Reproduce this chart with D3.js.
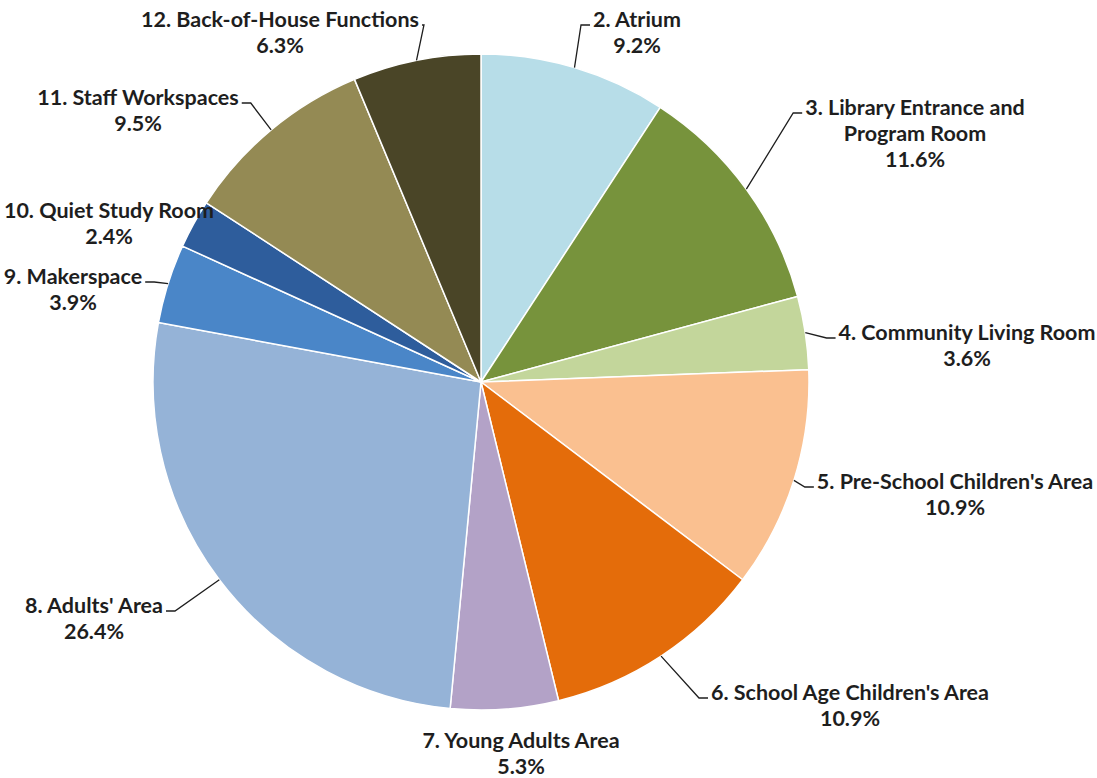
<!DOCTYPE html>
<meta charset="utf-8">
<script src="https://d3js.org/d3.v7.min.js"></script>
<style>
body { margin: 0; background: #fff; }
svg { display: block; }
.lbl { font-family: Lato, "Open Sans", sans-serif; font-weight: bold; fill: #1e1e1e; }
.leader { fill: none; stroke: #1e1e1e; stroke-width: 1.3; }
</style>
<body>
</body>
<script>

// data, clockwise from 12 o'clock
var names = [
  ["2. Atrium"],
  ["3. Library Entrance and", "Program Room"],
  ["4. Community Living Room"],
  ["5. Pre-School Children's Area"],
  ["6. School Age Children's Area"],
  ["7. Young Adults Area"],
  ["8. Adults' Area"],
  ["9. Makerspace"],
  ["10. Quiet Study Room"],
  ["11. Staff Workspaces"],
  ["12. Back-of-House Functions"]
];
var shares = [9.2, 11.6, 3.6, 10.9, 10.9, 5.3, 26.4, 3.9, 2.4, 9.5, 6.3];
var colors = ["#b7dde8", "#77933c", "#c3d69b", "#fac090", "#e46c0a", "#b3a2c7",
              "#95b3d7", "#4a86c8", "#2e5d9c", "#948a54", "#4a4527"];

// label layout: centre x, first line centre y, leader side, elbow length
var labelPos = [
  [637, 19, "L", 9], [915, 107, "L", 9], [967, 332, "L", 9], [955, 481, "L", 9], [850, 692, "L", 9],
  [521, 740, null], [94, 605, "R", 9], [73, 276, "R", 9], [109, 210, null], [138, 97, "R", 9], [280, 19, "R", 2]
];

var width = 1097, height = 778;
var cx = 481, cy = 382, r = 328;
var lineH = 26;

var svg = d3.select("body").append("svg")
  .attr("width", width)
  .attr("height", height);

// fit font size so the widest label matches the original
var probe = svg.append("text").attr("class", "lbl").style("font-size", "100px").text("4. Community Living Room");
var fontSize = 100 * 257 / probe.node().getComputedTextLength();
probe.remove();

var pie = d3.pie().sort(null).value(function(d) { return d; });
var arcs = pie(shares);
var arc = d3.arc().innerRadius(0).outerRadius(r);

var g = svg.append("g").attr("transform", "translate(" + cx + "," + cy + ")");

g.selectAll(".slice")
  .data(arcs).enter().append("path")
  .attr("class", "slice")
  .attr("d", arc)
  .attr("fill", function(d, i) { return colors[i]; })
  .attr("stroke", "#fff")
  .attr("stroke-width", 1.5)
  .attr("stroke-linejoin", "round");

var labels = svg.selectAll(".lblGroup")
  .data(arcs).enter().append("g")
  .attr("class", "lblGroup");

labels.each(function(d, i) {
  var grp = d3.select(this);
  var p = labelPos[i];
  var lines = names[i].concat([d3.format(".1f")(shares[i]) + "%"]);
  var first = null;
  lines.forEach(function(t, k) {
    var txt = grp.append("text")
      .attr("class", "lbl")
      .attr("x", p[0])
      .attr("y", p[1] + k * lineH)
      .attr("dy", "0.36em")
      .attr("text-anchor", "middle")
      .style("font-size", fontSize + "px")
      .text(t);
    if (k === 0) first = txt;
  });

  if (!p[2]) return;
  var w = first.node().getComputedTextLength();
  var ay = p[1] + 6;
  var ax = p[2] === "L" ? p[0] - w / 2 - 3 : p[0] + w / 2 + 3;
  var ex = p[2] === "L" ? ax - p[3] : ax + p[3];
  var mid = (d.startAngle + d.endAngle) / 2;
  var px = cx + Math.sin(mid) * r, py = cy - Math.cos(mid) * r;
  grp.append("path")
    .attr("class", "leader")
    .attr("d", d3.line()([[px, py], [ex, ay], [ax, ay]]));
});

</script>
